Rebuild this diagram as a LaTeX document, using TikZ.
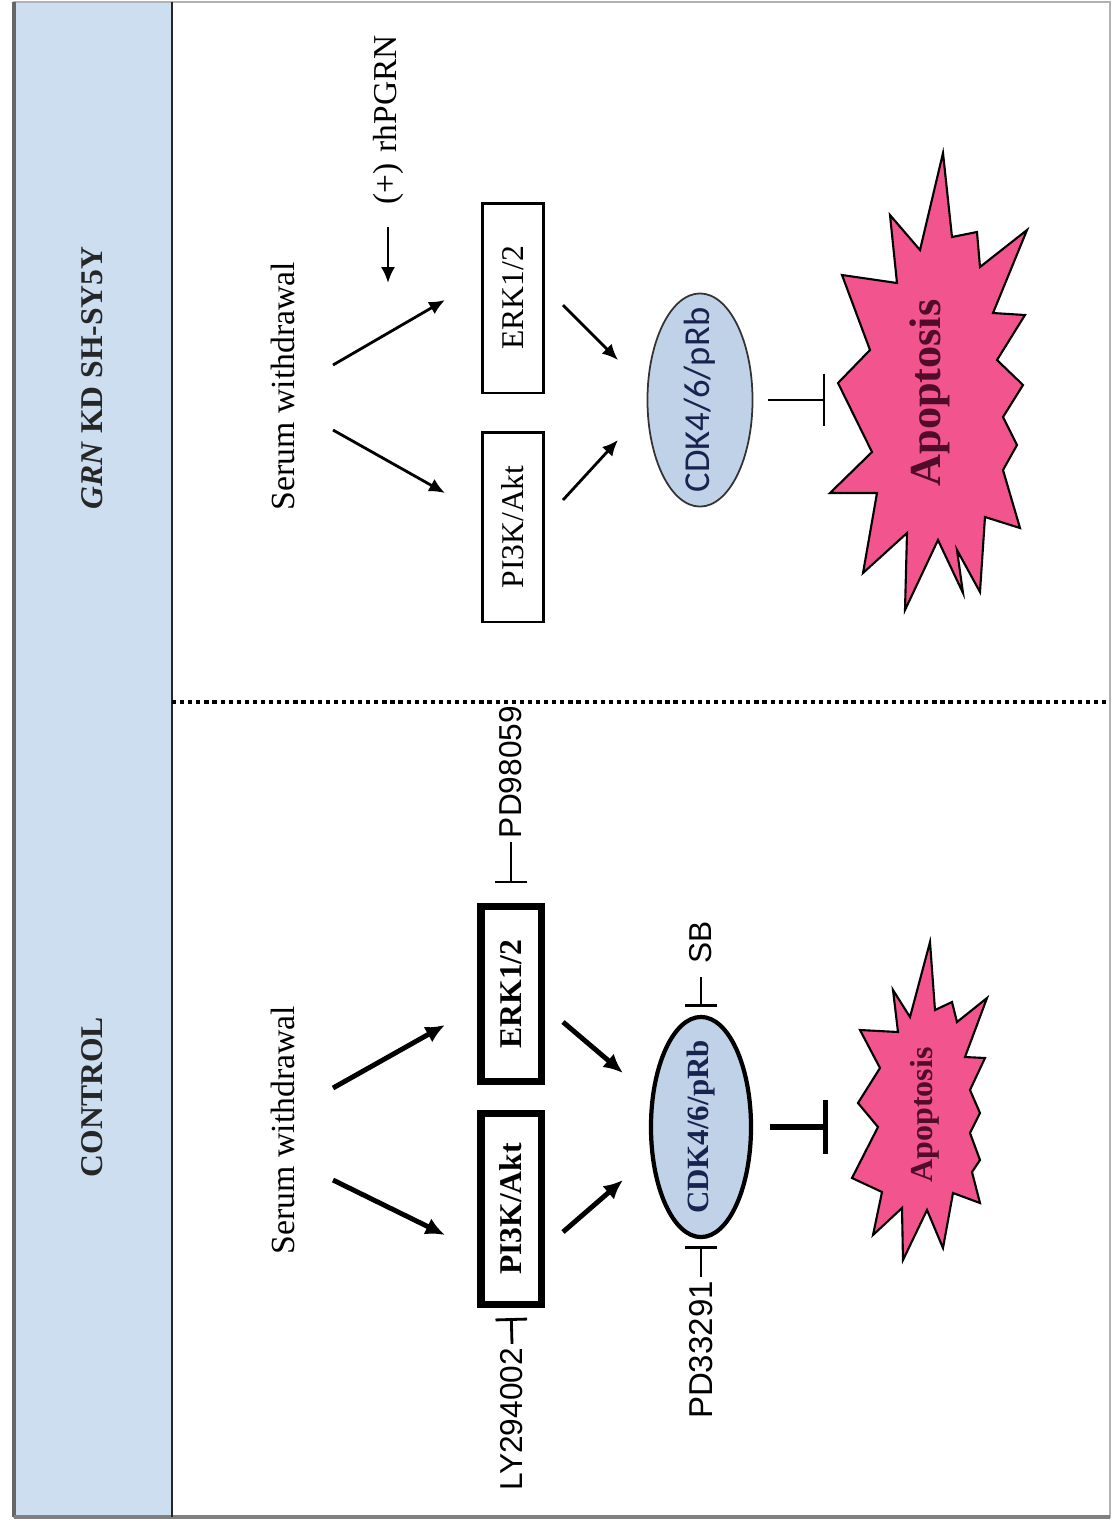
\documentclass[tikz,border=0pt]{standalone}
\usepackage{fontspec}
\setmainfont{Liberation Serif}
\setsansfont{Liberation Sans}
\newfontfamily\calfont{Carlito}
\usetikzlibrary{arrows.meta,shapes.geometric}
\definecolor{hdrblue}{RGB}{205,222,241}
\definecolor{cdkblue}{RGB}{192,210,232}
\definecolor{apopink}{RGB}{242,84,142}
\definecolor{apotext}{RGB}{80,12,42}
\definecolor{cdktext}{RGB}{25,35,80}
\begin{document}
\begin{tikzpicture}[x=0.01cm,y=-0.01cm,
    hdr/.style={rotate=90,inner sep=0pt,text=black!85,font=\bfseries\fontsize{9}{11}\selectfont},
    txt/.style={rotate=90,inner sep=0pt,font=\fontsize{9.6}{11}\selectfont},
    drug/.style={rotate=90,inner sep=1pt,font=\sffamily\fontsize{9}{11}\selectfont},
    boxA/.style={draw,rotate=90,line width=2pt,minimum height=0.6cm,inner sep=0pt,font=\bfseries\fontsize{9}{11}\selectfont},
    boxB/.style={draw,rotate=90,line width=0.6pt,minimum height=0.61cm,inner sep=0pt,font=\fontsize{9}{11}\selectfont},
    cdkA/.style={ellipse,draw,fill=cdkblue,rotate=90,line width=1.2pt,inner xsep=-0.5cm,inner ysep=0pt,minimum width=2.2cm,minimum height=1cm,text=cdktext,font=\bfseries\fontsize{8.8}{10}\selectfont},
    cdkB/.style={ellipse,draw=black!80,fill=cdkblue,rotate=90,line width=0.5pt,inner xsep=-0.5cm,inner ysep=0pt,minimum width=2.13cm,minimum height=1.05cm,text=cdktext,font=\calfont\fontsize{10.4}{12}\selectfont},
    star/.style={draw,fill=apopink,line width=0.6pt,line join=miter},
    apo/.style={rotate=90,inner sep=0pt,text=apotext,font=\bfseries},
    arrA/.style={line width=1.4pt,-{Latex[length=5.5pt,width=5pt]}},
    arrB/.style={line width=0.8pt,-{Latex[length=4.5pt,width=4pt]}},
    inhS/.style={line width=0.8pt,-{Bar[width=9pt]}},
    inhA/.style={line width=1.5pt,-{Bar[width=15.5pt]}},
    inhB/.style={line width=0.5pt,-{Bar[width=15pt]}}]
\useasboundingbox (0,0) rectangle (1115,1526);
% frame and header column
\fill[hdrblue] (14,2) rectangle (172,1517);
\draw[gray!60,line width=0.6pt] (14,2) rectangle (1110,1517);
\draw[gray!80!black,line width=0.9pt] (14,2) -- (14,1517);
\draw[gray,line width=1.2pt] (14,1517) -- (1110,1517);
\draw[black!85,line width=0.6pt] (172,2) -- (172,1517);
\draw[line width=1.2pt,dash pattern=on 1.2pt off 1.1pt] (172,702) -- (1110,702);
\node[hdr] (hgrn) at (92,378) {\textit{GRN} KD SH-SY5Y};
\node[hdr] (hctl) at (92,1097) {CONTROL};

% control
\node[txt] (sw1) at (283,1130) {Serum withdrawal};
\node[boxA,minimum width=1.91cm] (pk1) at (511,1209) {PI3K/Akt};
\node[boxA,minimum width=1.74cm] (erk1) at (511,994) {ERK1/2};
\node[cdkA] (cdk1) at (701,1127) {CDK4/6/pRb};
\node[drug] (ly) at (512,1419) {LY294002};
\node[drug] (pd1) at (511,772) {PD98059};
\node[drug] (sb) at (701,942) {SB};
\node[drug,font=\sffamily\fontsize{9.4}{11}\selectfont] (pd2) at (701,1350) {PD33291};
\draw[star] (930,942) -- (935,1010) -- (952,1002) -- (957,1022) -- (987,998)
  -- (965,1057) -- (985,1058) -- (970,1090) -- (980,1113) -- (970,1133)
  -- (980,1160) -- (972,1172) -- (980,1203) -- (953,1193) -- (943,1248)
  -- (927,1210) -- (903,1260) -- (902,1208) -- (873,1235) -- (882,1192)
  -- (852,1178) -- (878,1127) -- (858,1103) -- (880,1068) -- (860,1030)
  -- (898,1032) -- (893,990) -- (910,1017) -- cycle;
\node[apo,font=\bfseries\fontsize{9.1}{10}\selectfont] (ap1) at (925,1115) {Apoptosis};
\coordinate (s1a) at (333,1180); \coordinate (s1b) at (445,1235);
\coordinate (s2a) at (333,1088); \coordinate (s2b) at (445,1025);
\coordinate (p1a) at (563,1232); \coordinate (p1b) at (623,1180);
\coordinate (e1a) at (563,1022); \coordinate (e1b) at (623,1073);
\coordinate (bar1) at (828,1127);
\draw[arrA] (s1a) -- (s1b);
\draw[arrA] (s2a) -- (s2b);
\draw[arrA] (p1a) -- (p1b);
\draw[arrA] (e1a) -- (e1b);
\draw[inhS,shorten >=0.1cm] (ly.east) -- (pk1.west);
\draw[inhS,shorten >=0.2cm] (pd1.west) -- (erk1.east);
\draw[inhS,shorten <=0.1cm,shorten >=0.08cm] (sb.west) -- (cdk1.east);
\draw[inhS,shorten >=0.07cm] (pd2.east) -- (cdk1.west);
\draw[inhA,shorten <=0.17cm] (cdk1.south) -- (bar1);

% GRN knock-down
\node[txt] (sw2) at (283,386) {Serum withdrawal};
\node[txt,font=\fontsize{9.5}{11}\selectfont] (rh) at (388,120) {(+)\,\,rhPGRN};
\node[boxB,minimum width=1.89cm] (pk2) at (513,527) {PI3K/Akt};
\node[boxB,minimum width=1.89cm] (erk2) at (513,298) {ERK1/2};
\node[cdkB] (cdk2) at (700,400) {CDK4/6/pRb};
\draw[star] (943,153) -- (952,237) -- (977,232) -- (980,267) -- (1027,230)
  -- (993,313) -- (1025,315) -- (997,360) -- (1023,385) -- (1003,417)
  -- (1017,445) -- (1003,470) -- (1020,528) -- (985,517) -- (980,592)
  -- (957,550) -- (963,593) -- (938,540) -- (905,610) -- (907,533)
  -- (863,573) -- (877,493) -- (830,493) -- (872,452) -- (838,383)
  -- (870,350) -- (842,275) -- (897,283) -- (890,215) -- (920,250) -- cycle;
\node[apo,font=\bfseries\fontsize{12.6}{14}\selectfont] (ap2) at (930,393) {Apoptosis};
\coordinate (s3a) at (333,430); \coordinate (s3b) at (445,493);
\coordinate (s4a) at (333,365); \coordinate (s4b) at (445,300);
\coordinate (p2a) at (563,500); \coordinate (p2b) at (618,440);
\coordinate (e2a) at (563,305); \coordinate (e2b) at (618,360);
\coordinate (rhend) at (388,283);
\coordinate (bar2) at (825,400);
\draw[arrB] (s3a) -- (s3b);
\draw[arrB] (s4a) -- (s4b);
\draw[arrB] (p2a) -- (p2b);
\draw[arrB] (e2a) -- (e2b);
\draw[arrB,shorten <=0.22cm] (rh.west) -- (rhend);
\draw[inhB,shorten <=0.15cm] (cdk2.south) -- (bar2);
\end{tikzpicture}
\end{document}
